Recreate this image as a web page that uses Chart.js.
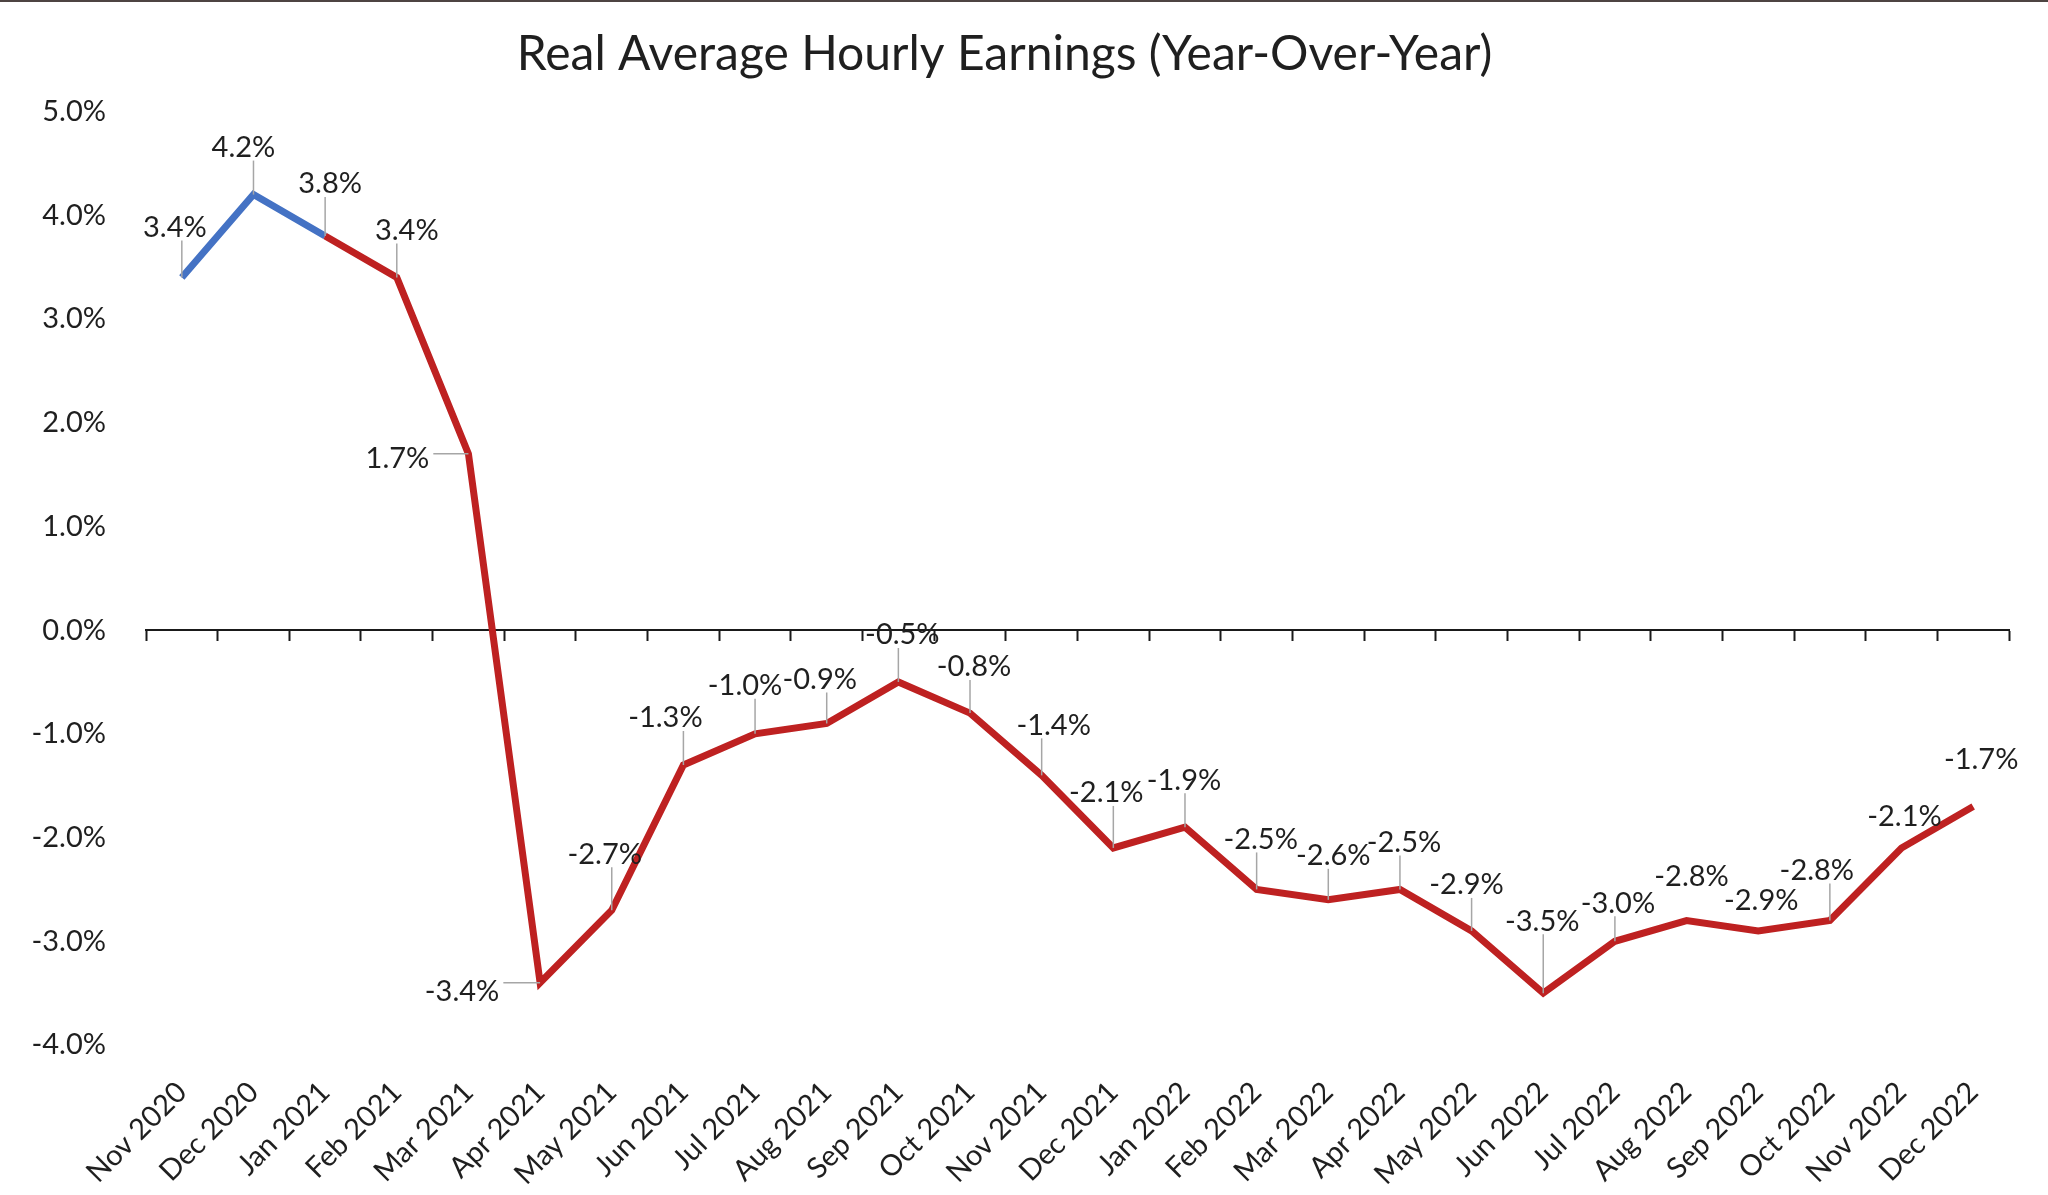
<!DOCTYPE html>
<html>
<head>
<meta charset="utf-8">
<script src="https://cdn.jsdelivr.net/npm/chart.js@4.4.0/dist/chart.umd.min.js"></script>
<style>
  body { margin: 0; background: #fff; }
  #topline { position: absolute; left: 0; top: 0; width: 2048px; height: 2px; background: #4d4442; }
</style>
</head>
<body>
<div id="topline"></div>
<canvas id="chart" width="2048" height="1195"></canvas>
<script>
// monthly year-over-year change, percent
const months = ['Nov 2020', 'Dec 2020', 'Jan 2021', 'Feb 2021', 'Mar 2021', 'Apr 2021', 'May 2021',
    'Jun 2021', 'Jul 2021', 'Aug 2021', 'Sep 2021', 'Oct 2021', 'Nov 2021', 'Dec 2021', 'Jan 2022',
    'Feb 2022', 'Mar 2022', 'Apr 2022', 'May 2022', 'Jun 2022', 'Jul 2022', 'Aug 2022', 'Sep 2022',
    'Oct 2022', 'Nov 2022', 'Dec 2022'];
const earnings = [3.4, 4.2, 3.8, 3.4, 1.7, -3.4, -2.7, -1.3, -1.0, -0.9, -0.5, -0.8, -1.4, -2.1, -1.9,
    -2.5, -2.6, -2.5, -2.9, -3.5, -3.0, -2.8, -2.9, -2.8, -2.1, -1.7];
const yTicks = [5, 4, 3, 2, 1, 0, -1, -2, -3, -4];

// where each value label sits relative to its point (px), and whether it gets a leader line
const labelShift = [[-7, -50], [-10, -47], [5, -52], [10, -47], [-71, 5], [-78, 9], [-7, -56],
    [-18, -47], [-10, -48], [-7, -44], [4, -47], [4, -46], [12, -50], [-7, -55], [-1, -47],
    [4, -50], [5, -44], [4, -47], [-5, -46], [-1, -72], [3, -38], [5, -44], [3, -30],
    [-13, -50], [3, -31], [8, -47]];
const hasLeader = [1, 1, 1, 1, 1, 1, 1, 1, 1, 1, 1, 1, 1, 1, 1, 1, 1, 1, 1, 1, 1, 0, 0, 1, 0, 0];

const FONT = 'Lato';
const TEXT = '#1f1f1f';
const BLUE = '#4472C4';
const RED = '#BE2121';

const valueLabels = {
    id: 'valueLabels',
    afterDatasetsDraw(chart) {
        const ctx = chart.ctx;
        const meta = chart.getDatasetMeta(0);
        ctx.save();
        ctx.font = '29px ' + FONT;
        ctx.textAlign = 'center';
        ctx.textBaseline = 'middle';
        meta.data.forEach((pt, i) => {
            const text = earnings[i].toFixed(1) + '%';
            const cx = pt.x + labelShift[i][0];
            const cy = pt.y + labelShift[i][1];
            if (hasLeader[i]) {
                const w = ctx.measureText(text).width / 2 + 4;
                const h = 13;
                const sx = Math.min(Math.max(pt.x, cx - w), cx + w);
                const sy = Math.min(Math.max(pt.y, cy - h), cy + h);
                ctx.strokeStyle = '#a6a6a6';
                ctx.lineWidth = 1.5;
                ctx.beginPath();
                ctx.moveTo(sx, sy);
                ctx.lineTo(pt.x, pt.y);
                ctx.stroke();
            }
            ctx.fillStyle = TEXT;
            ctx.fillText(text, cx, cy);
        });
        ctx.restore();
    }
};

new Chart(document.getElementById('chart'), {
    type: 'line',
    data: {
        labels: months,
        datasets: [{
            data: earnings,
            borderWidth: 7,
            borderColor: RED,
            pointRadius: 0,
            tension: 0,
            segment: {
                borderColor: c => c.p1DataIndex <= 2 ? BLUE : RED
            }
        }]
    },
    options: {
        responsive: false,
        devicePixelRatio: 1,
        animation: false,
        layout: { padding: { left: 0, right: 39, top: 0, bottom: 0 } },
        plugins: {
            legend: { display: false },
            tooltip: { enabled: false },
            title: {
                display: true,
                text: 'Real Average Hourly Earnings (Year-Over-Year)',
                color: TEXT,
                font: { family: FONT, size: 48, weight: 'normal' },
                padding: { top: 26, bottom: 28 }
            }
        },
        scales: {
            x: {
                offset: true,
                grid: { display: false },
                border: { display: false },
                ticks: {
                    autoSkip: false,
                    minRotation: 45,
                    maxRotation: 45,
                    padding: 22,
                    color: TEXT,
                    font: { family: FONT, size: 29 }
                },
                afterFit(scale) { scale.height = 150; }
            },
            x2: {
                type: 'category',
                labels: months,
                offset: true,
                position: { y: 0 },
                grid: { drawOnChartArea: false, offset: true, tickLength: 10, tickWidth: 2, tickColor: '#1a1a1a' },
                border: { color: '#1a1a1a', width: 2 },
                ticks: { display: false }
            },
            y: {
                min: -4,
                max: 5,
                afterBuildTicks(scale) { scale.ticks = yTicks.map(v => ({ value: v })); },
                grid: { display: false },
                border: { display: false },
                ticks: {
                    padding: 32,
                    color: TEXT,
                    font: { family: FONT, size: 29 },
                    callback: v => v.toFixed(1) + '%'
                },
                afterFit(scale) { scale.width = 146; }
            }
        }
    },
    plugins: [valueLabels]
});
</script>
</body>
</html>
